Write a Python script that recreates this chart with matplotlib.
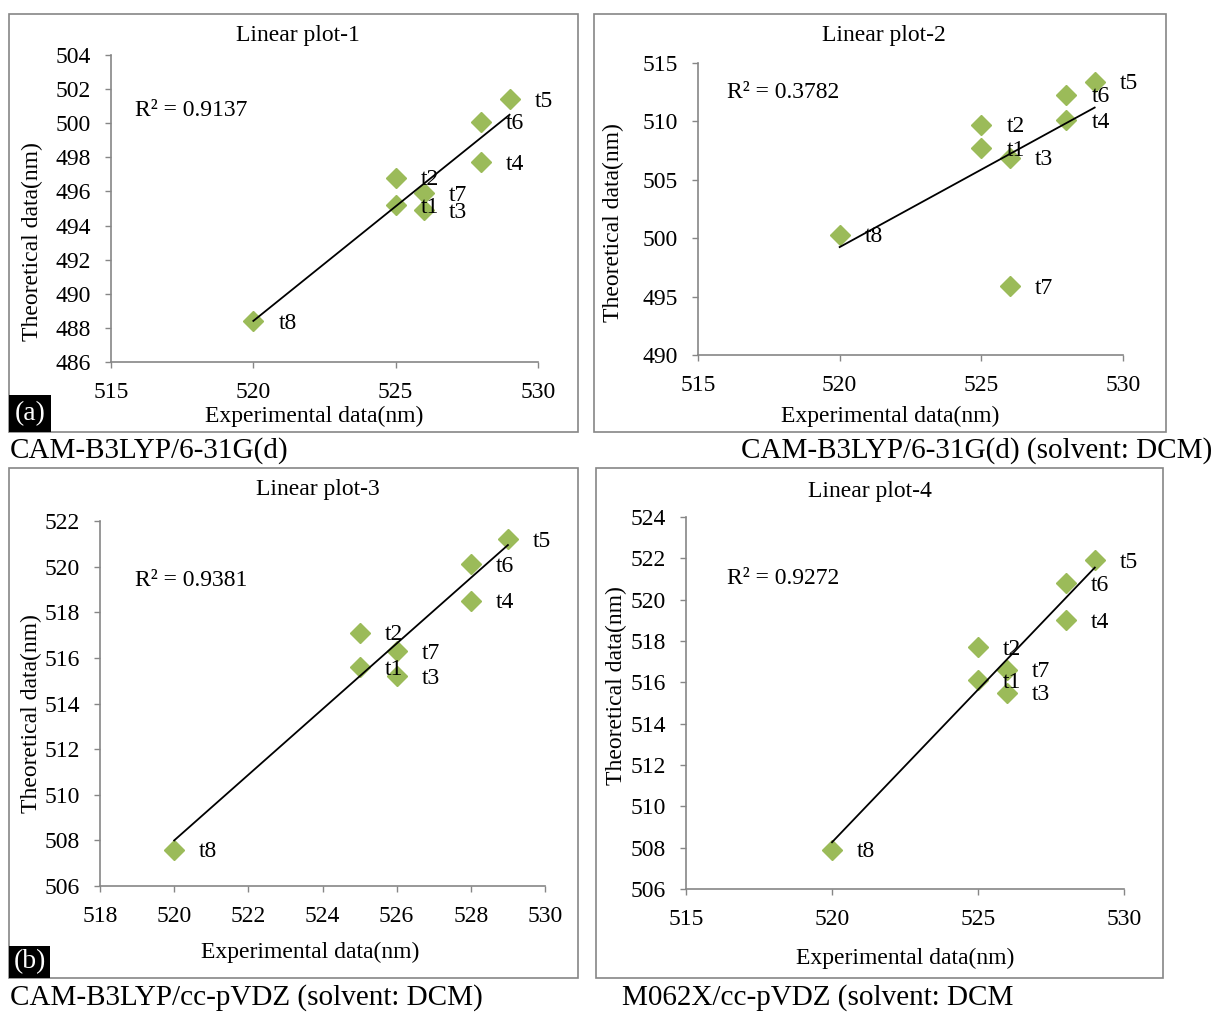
import numpy as np
import matplotlib
matplotlib.use("Agg")
import matplotlib.pyplot as plt
from matplotlib.patches import Rectangle

plt.rcParams['font.family'] = ['Liberation Serif', 'DejaVu Serif']

# ---------------- data ----------------
labels = ["t1", "t2", "t3", "t4", "t5", "t6", "t7", "t8"]
experimental = [525, 525, 526, 528, 529, 528, 526, 520]

theo_plot1 = [495.2, 496.8, 494.9, 497.7, 501.4, 500.1, 495.9, 488.4]
theo_plot2 = [507.7, 509.7, 506.9, 510.1, 513.4, 512.3, 495.9, 500.3]
theo_plot3 = [515.6, 517.1, 515.2, 518.5, 521.2, 520.1, 516.3, 507.6]
theo_plot4 = [516.1, 517.7, 515.5, 519.0, 521.9, 520.8, 516.6, 507.9]

titles = ["Linear plot-1", "Linear plot-2", "Linear plot-3", "Linear plot-4"]
r2_texts = ["R² = 0.9137", "R² = 0.3782", "R² = 0.9381", "R² = 0.9272"]
captions = ["CAM-B3LYP/6-31G(d)", "CAM-B3LYP/6-31G(d) (solvent: DCM)",
            "CAM-B3LYP/cc-pVDZ (solvent: DCM)", "M062X/cc-pVDZ (solvent: DCM"]
xticks_sets = [[515, 520, 525, 530], [515, 520, 525, 530],
               [518, 520, 522, 524, 526, 528, 530], [515, 520, 525, 530]]
yticks_sets = [list(range(486, 505, 2)), list(range(490, 516, 5)),
               list(range(506, 523, 2)), list(range(506, 525, 2))]

# ---------------- layout (pixels) ----------------
W, H = 1215, 1013
fig = plt.figure(figsize=(W / 100, H / 100), dpi=100)

def fx(x):
    return x / W

def fy(y):
    return 1 - y / H

# axes: left, right, top, bottom in pixels
axes_px = [(111, 538, 55, 362), (698, 1123, 63, 355),
           (100, 545, 521, 886), (686, 1124, 517, 889)]
boxes_px = [(9, 578, 14, 432), (594, 1166, 14, 432),
            (9, 578, 468, 978), (596, 1163, 468, 978)]
title_px = [(298, 35), (884, 35), (318, 490), (870, 491)]
r2_px = [(135, 111), (727, 93), (135, 580), (727, 578)]
xlabel_px = [(314, 416), (890, 416), (310, 952), (905, 958)]
ylabel_px = [(32, 242), (613, 223), (31, 714), (616, 686)]
caption_px = [(10, 451, 'left'), (1212, 451, 'right'), (10, 998, 'left'), (622, 998, 'left')]

series = [theo_plot1, theo_plot2, theo_plot3, theo_plot4]

grey = "#868686"
green = "#9BBB59"
fs = 17

for (bl, br, bt, bb) in boxes_px:
    fig.patches.append(Rectangle((fx(bl), fy(bb)), fx(br - bl), (bb - bt) / H,
                                 transform=fig.transFigure, fill=False,
                                 edgecolor=grey, linewidth=1.2))

for i in range(4):
    l, r, t, b = axes_px[i]
    ax = fig.add_axes([fx(l), fy(b), fx(r - l), (b - t) / H])
    xs = np.array(experimental, dtype=float)
    ys = np.array(series[i], dtype=float)
    ax.plot(xs, ys, linestyle='none', marker='D', markersize=10.5,
            color=green, zorder=2)
    k, c = np.polyfit(xs, ys, 1)
    xl = np.array([xs.min(), xs.max()])
    ax.plot(xl, k * xl + c, color='black', linewidth=1.3, zorder=3)
    for lab, xv, yv in zip(labels, xs, ys):
        ax.annotate(lab, (xv, yv), xytext=(25, -2), textcoords='offset pixels',
                    ha='left', va='center', fontsize=fs, zorder=4)
    xt = xticks_sets[i]
    yt = yticks_sets[i]
    ax.set_xlim(xt[0], xt[-1])
    ax.set_ylim(yt[0], yt[-1])
    ax.set_xticks(xt)
    ax.set_yticks(yt)
    ax.tick_params(axis='both', direction='out', length=4.5, width=1,
                   color=grey, labelsize=fs, pad=10)
    for s in ['top', 'right']:
        ax.spines[s].set_visible(False)
    for s in ['left', 'bottom']:
        ax.spines[s].set_color(grey)
        ax.spines[s].set_linewidth(1.2)
    ax.patch.set_alpha(0)

    fig.text(fx(title_px[i][0]), fy(title_px[i][1]), titles[i], ha='center',
             va='center', fontsize=17)
    fig.text(fx(r2_px[i][0]), fy(r2_px[i][1]), r2_texts[i], ha='left',
             va='center', fontsize=fs)
    fig.text(fx(xlabel_px[i][0]), fy(xlabel_px[i][1]), "Experimental data(nm)",
             ha='center', va='center', fontsize=fs)
    fig.text(fx(ylabel_px[i][0]), fy(ylabel_px[i][1]), "Theoretical data(nm)",
             ha='center', va='center', fontsize=fs, rotation=90)
    cx, cy, ha = caption_px[i]
    fig.text(fx(cx), fy(cy), captions[i], ha=ha, va='center', fontsize=21)

# panel tags (a), (b)
for (tl, tt, tr, tb, tag) in [(9, 395, 51, 432, "(a)"), (9, 946, 50, 978, "(b)")]:
    fig.patches.append(Rectangle((fx(tl), fy(tb)), fx(tr - tl), (tb - tt) / H,
                                 transform=fig.transFigure, facecolor='black',
                                 edgecolor='none'))
    fig.text(fx((tl + tr) / 2), fy((tt + tb) / 2), tag, color='white',
             ha='center', va='center', fontsize=20)

fig.savefig("out.png", dpi=100)
